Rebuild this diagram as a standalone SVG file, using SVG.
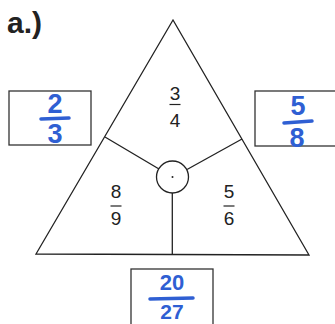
<svg xmlns="http://www.w3.org/2000/svg" width="335" height="324" viewBox="0 0 335 324">
<style>
.ln{stroke:#222;stroke-width:1.3;fill:none}
.box{stroke:#333;stroke-width:1.3;fill:#fff}
.fr{font-family:"Liberation Sans",Arial,sans-serif;font-size:19px;fill:#222;text-anchor:middle}
.hw{font-family:"Liberation Sans",Arial,sans-serif;font-weight:bold;fill:#2f5fd3;text-anchor:middle}
.hb{stroke:#2f5fd3;stroke-width:3.5;stroke-linecap:round}
.bar{stroke:#222;stroke-width:1.2}
</style>
<rect width="335" height="324" fill="#fff"/>
<text x="7" y="33" font-family="Liberation Sans,Arial,sans-serif" font-weight="bold" font-size="30" fill="#222">a.)</text>
<g id="triangle">
<polygon class="ln" points="173,20 36,254 309,255"/>
</g>
<g id="connectors">
<line class="ln" x1="105" y1="137" x2="159" y2="169"/>
<line class="ln" x1="242" y1="139" x2="187" y2="169.5"/>
<line class="ln" x1="172.3" y1="193" x2="172.3" y2="254.5"/>
</g>
<g id="center">
<circle class="ln" cx="172.5" cy="177" r="16"/>
<circle cx="172.5" cy="177" r="1" fill="#222"/>
</g>
<g id="top-fraction">
<text class="fr" x="175" y="100">3</text>
<line class="bar" x1="169.5" y1="104.5" x2="180.5" y2="104.5"/>
<text class="fr" x="175" y="127">4</text>
</g>
<g id="left-fraction">
<text class="fr" x="116" y="198">8</text>
<line class="bar" x1="110.5" y1="206" x2="121.5" y2="206"/>
<text class="fr" x="116" y="225">9</text>
</g>
<g id="right-fraction">
<text class="fr" x="229" y="198">5</text>
<line class="bar" x1="223.5" y1="206" x2="234.5" y2="206"/>
<text class="fr" x="229" y="225">6</text>
</g>
<g id="left-box">
<rect class="box" x="9" y="91" width="82" height="54"/>
<text class="hw" x="55" y="113" font-size="27">2</text>
<line class="hb" x1="41" y1="119" x2="69" y2="118"/>
<text class="hw" x="55" y="143" font-size="27">3</text>
</g>
<g id="right-box">
<rect class="box" x="255" y="91" width="85" height="55"/>
<text class="hw" x="298" y="115" font-size="27">5</text>
<line class="hb" x1="284" y1="123" x2="312" y2="121"/>
<text class="hw" x="297" y="147" font-size="27">8</text>
</g>
<g id="bottom-box">
<rect class="box" x="131" y="269" width="82" height="60"/>
<text class="hw" x="172" y="290" font-size="22">20</text>
<line class="hb" x1="150" y1="299" x2="193" y2="298"/>
<text class="hw" x="172" y="319" font-size="21">27</text>
</g>
</svg>
